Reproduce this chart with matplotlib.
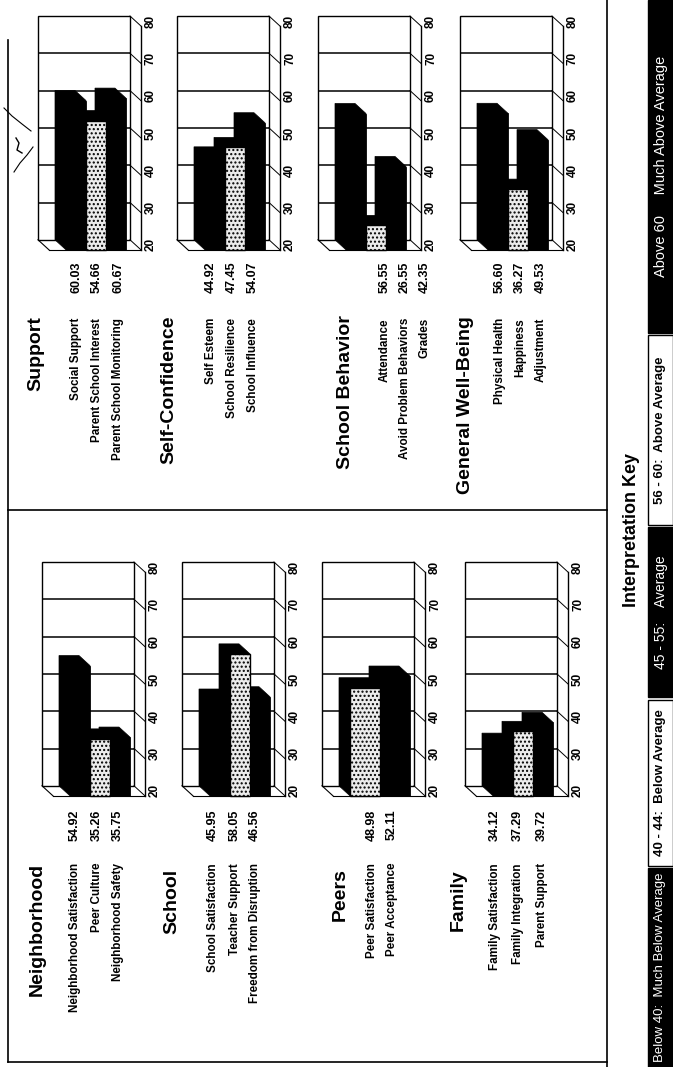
import matplotlib
matplotlib.use("Agg")
import matplotlib.pyplot as plt
from matplotlib.patches import Polygon, Rectangle
import numpy as np

# ---------------------------------------------------------------- data
support_labels = ["Social Support", "Parent School Interest", "Parent School Monitoring"]
support_values = [60.03, 54.66, 60.67]
confidence_labels = ["Self Esteem", "School Resilience", "School Influence"]
confidence_values = [44.92, 47.45, 54.07]
behavior_labels = ["Attendance", "Avoid Problem Behaviors", "Grades"]
behavior_values = [56.55, 26.55, 42.35]
wellbeing_labels = ["Physical Health", "Happiness", "Adjustment"]
wellbeing_values = [56.60, 36.27, 49.53]

neighborhood_labels = ["Neighborhood Satisfaction", "Peer Culture", "Neighborhood Safety"]
neighborhood_values = [54.92, 35.26, 35.75]
school_labels = ["School Satisfaction", "Teacher Support", "Freedom from Disruption"]
school_values = [45.95, 58.05, 46.56]
peers_labels = ["Peer Satisfaction", "Peer Acceptance"]
peers_values = [48.98, 52.11]
family_labels = ["Family Satisfaction", "Family Integration", "Parent Support"]
family_values = [34.12, 37.29, 39.72]

scale_ticks = [20, 30, 40, 50, 60, 70, 80]

key_title = "Interpretation Key"
key_labels = ["Below 40:  Much Below Average", "40 - 44:  Below Average",
              "45 - 55:    Average", "56 - 60:  Above Average",
              "Above 60     Much Above Average"]

# ---------------------------------------------------------------- page
W, H = 673, 1067
fig = plt.figure(figsize=(W / 100, H / 100), dpi=100)
fig.patch.set_facecolor("white")

page = fig.add_axes([0, 0, 1, 1])
page.set_xlim(0, W)
page.set_ylim(H, 0)
page.axis("off")

NARROW = ["Liberation Sans Narrow", "Liberation Sans", "DejaVu Sans"]
SANS = ["Liberation Sans", "DejaVu Sans"]

plt.rcParams["hatch.linewidth"] = 1.0
plt.rcParams["hatch.color"] = "#222222"

# 3-D bar geometry (category units of 20 px, value units of 3.73 px)
PX_X = 20.0
PX_V = 3.73
DX = 0.55
DV = 2.7
BOX_W = 4.6
VMIN, VMAX = 20, 80


def bar_chart(box_left, box_top, values, faces):
    x0px, x1px = box_left - 4, box_left + 132
    y0px, y1px = box_top - 4, box_top + (VMAX - VMIN) * PX_V + 18
    ax = fig.add_axes([x0px / W, 1 - y1px / H, (x1px - x0px) / W, (y1px - y0px) / H])
    ax.set_xlim(-4 / PX_X, (x1px - box_left) / PX_X)
    ax.set_ylim(VMAX - (y1px - box_top) / PX_V, VMAX + 4 / PX_V)
    ax.axis("off")

    # back wall with grid
    ax.add_patch(Rectangle((0, VMIN), BOX_W, VMAX - VMIN, facecolor="white",
                           edgecolor="black", lw=1.0, zorder=1))
    ax.hlines(scale_ticks[1:-1], 0, BOX_W, color="black", lw=1.1, zorder=1)
    # floor on the value side
    for t in scale_ticks:
        ax.plot([BOX_W, BOX_W + DX], [t, t - DV], color="black", lw=0.7, zorder=1)
    ax.plot([BOX_W + DX] * 2, [VMIN - DV, VMAX - DV], color="black", lw=1.0, zorder=1)
    ax.plot([0, DX], [VMIN, VMIN - DV], color="black", lw=0.8, zorder=1)
    ax.plot([DX, BOX_W + DX], [VMIN - DV, VMIN - DV], color="black", lw=0.8, zorder=1)
    for t in scale_ticks:
        ax.text(BOX_W + DX + 0.5, t - DV / 2, str(t), rotation=90, ha="center",
                va="center", fontsize=8.5, fontweight="bold", family=SANS)

    n = len(values)
    bw = 3.0 / n
    left = 0.85 + bw * np.arange(n)
    vals = np.asarray(values, dtype=float)
    # top and side faces
    for xl, v in zip(left, vals):
        xr = xl + bw
        ax.add_patch(Polygon([(xl, VMIN), (xl, v), (xr, v), (xr + DX, v - DV),
                              (xr + DX, VMIN - DV), (xl + DX, VMIN - DV)],
                             closed=True, facecolor="black", edgecolor="black",
                             lw=0.5, zorder=2))
    # front faces
    for xl, v, face in zip(left, vals, faces):
        if face == "dots":
            ax.bar(xl + DX + bw / 2, v - VMIN, bottom=VMIN - DV, width=bw,
                   facecolor="#ececec", edgecolor="black", hatch="....",
                   lw=1.0, zorder=3)
        else:
            ax.bar(xl + DX + bw / 2, v - VMIN, bottom=VMIN - DV, width=bw,
                   facecolor="black", edgecolor="black", lw=0.5, zorder=3)
    return ax


def text_block(title, title_x, title_y, title_va, labels, values, xs, end_y, val_y):
    page.text(title_x, title_y, title, rotation=90, ha="center", va=title_va,
              fontsize=14, fontweight="bold", family=SANS)
    for lab, val, x in zip(labels, values, xs):
        page.text(x, end_y, lab, rotation=90, ha="center", va="top",
                  fontsize=8.4, fontweight="bold", family=NARROW)
        page.text(x, val_y, f"{val:.2f}", rotation=90, ha="center", va="center",
                  fontsize=9, fontweight="bold", family=SANS)


# ---------------------------------------------------------------- right-hand panel
bar_chart(38, 16, support_values, ["solid", "dots", "solid"])
bar_chart(177, 16, confidence_values, ["solid", "dots", "solid"])
bar_chart(318, 16, behavior_values, ["solid", "dots", "solid"])
bar_chart(460, 16, wellbeing_values, ["solid", "dots", "solid"])

text_block("Support", 36, 316, "top", support_labels, support_values,
           [76, 97, 118], 318, 277)
text_block("Self-Confidence", 169, 315, "top", confidence_labels, confidence_values,
           [211, 232, 253], 318, 277)
text_block("School Behavior", 345, 315, "top", behavior_labels, behavior_values,
           [385, 405, 425], 318, 277)
text_block("General Well-Being", 465, 316, "top", wellbeing_labels, wellbeing_values,
           [500, 520, 541], 318, 277)

# ---------------------------------------------------------------- left-hand panel
bar_chart(42, 562, neighborhood_values, ["solid", "dots", "solid"])
bar_chart(182, 562, school_values, ["solid", "dots", "solid"])
bar_chart(322, 562, peers_values, ["dots", "solid"])
bar_chart(465, 562, family_values, ["solid", "dots", "solid"])

text_block("Neighborhood", 37, 863, "top", neighborhood_labels, neighborhood_values,
           [75, 97, 118], 863, 825)
text_block("School", 172, 901, "center", school_labels, school_values,
           [213, 235, 255], 863, 825)
text_block("Peers", 340, 895, "center", peers_labels, peers_values,
           [372, 392], 863, 825)
text_block("Family", 458, 900, "center", family_labels, family_values,
           [495, 518, 542], 863, 825)

# ---------------------------------------------------------------- frame
frame = dict(color="black", lw=1.2)
page.plot([8, 8], [40, 1062], **frame)
page.plot([8, 607], [1062, 1062], **frame)
page.plot([607, 607], [0, 1067], **frame)
page.plot([8, 607], [510, 510], **frame)

# handwritten mark beside the first chart
page.plot([4, 12, 22, 31], [108, 116, 124, 131], color="black", lw=0.8)
page.plot([14, 20, 27, 33], [172, 163, 155, 147], color="black", lw=0.8)
page.plot([16, 19, 17, 22], [138, 143, 150, 153], color="black", lw=1.0)

# ---------------------------------------------------------------- interpretation key
page.text(632, 530, key_title, rotation=90, ha="center", va="center",
          fontsize=13, fontweight="bold", family=SANS)
key_spans = [(868, 1067), (700, 866), (527, 697), (335, 525), (0, 333)]
key_sizes = [9.5, 9.5, 10, 9.5, 10.5]
for i, (lab, (ya, yb), fs) in enumerate(zip(key_labels, key_spans, key_sizes)):
    dark = i % 2 == 0
    page.add_patch(Rectangle((648, ya), 25, yb - ya,
                             facecolor="black" if dark else "white",
                             edgecolor="black", lw=1.0))
    page.text(660.5, (ya + yb) / 2, lab, rotation=90, ha="center", va="center",
              fontsize=fs, fontweight="normal" if dark else "bold",
              color="white" if dark else "black", family=SANS)

fig.savefig("out.png", dpi=100, facecolor="white")
